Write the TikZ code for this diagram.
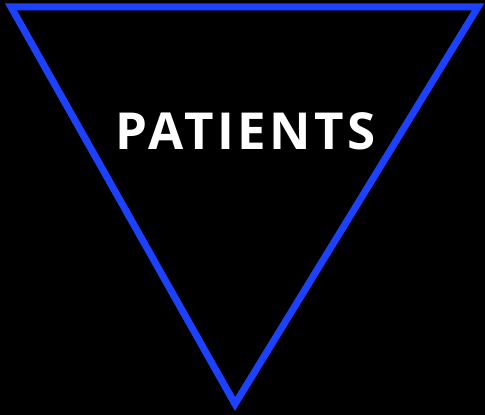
\documentclass[tikz,border=0pt]{standalone}
\usepackage{fontspec}
\setmainfont{Open Sans}
\newfontfamily\labelfont[LetterSpace=7]{Open Sans}
\usepackage{tikz}
\usetikzlibrary{calc}
\definecolor{triblue}{RGB}{28,66,255}

\begin{document}
\begin{tikzpicture}[x=1pt,y=1pt]
 \fill[black] (0,0) rectangle (485,415);
 \useasboundingbox (0,0) rectangle (485,415);

 \draw [line width=7pt,triblue,line join=miter]  (11,408) -- (478,408) -- (235,11) -- cycle;

\node[outer sep=0pt,inner sep=0pt,text=white] (patients) at (246,283.5) {\fontsize{51}{60}\selectfont\labelfont\bfseries PATIENTS};
 \end{tikzpicture}
\end{document}
